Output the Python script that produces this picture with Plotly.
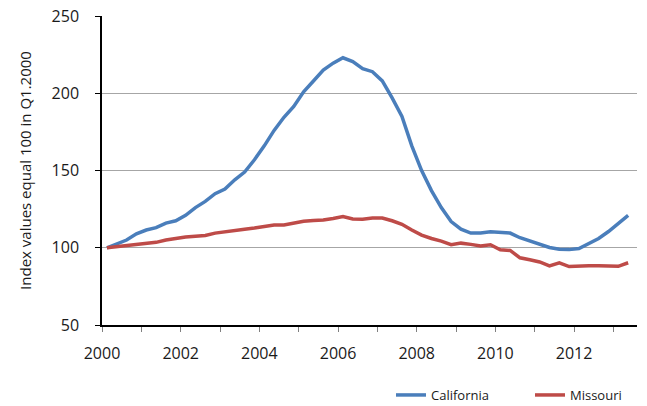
import plotly.graph_objects as go

# Quarterly data, Q1.2000 .. Q2.2013
years = [y for y in range(2000, 2014) for q in range(4)][:54]
qtrs = [q for y in range(2000, 2014) for q in range(1, 5)][:54]

california = [100, 102.5, 105, 109, 111.5, 113, 116, 117.5, 121, 126,
              130, 135, 138, 144, 149, 157, 166, 176, 184.5, 191.5,
              201, 208, 215, 219.5, 223, 220.5, 216, 214, 208, 197,
              185, 166, 150, 137, 126, 117, 112, 109.5, 109.5, 110.3,
              110, 109.5, 106.5, 104.5, 102.5, 100.2, 99, 98.8, 99.5, 103,
              106, 110.5, 116, 121]
missouri = [100, 100.8, 101.5, 102, 102.8, 103.5, 105, 106.2, 107, 107.5,
            108, 109.5, 110.5, 111.2, 112, 112.8, 114, 114.8, 114.7, 116.2,
            117.2, 117.7, 118, 119, 120.2, 118.6, 118.5, 119.3, 119.3, 117.5,
            115.2, 111.5, 108.2, 106, 104.3, 102, 103, 102.2, 101.2, 102,
            98.7, 98.3, 93.5, 92.2, 90.8, 88.3, 90.3, 87.8, 88.2, 88.3,
            88.4, 88.3, 88, 90.3]

x = [y + (q - 0.5) / 4 for y, q in zip(years, qtrs)]

x_ticks = [2000, 2002, 2004, 2006, 2008, 2010, 2012]
y_ticks = [50, 100, 150, 200, 250]

fig = go.Figure()
fig.add_trace(go.Scatter(x=x, y=california, mode="lines", name="California",
                         line=dict(color="#4a7ebb", width=3.5), legend="legend"))
fig.add_trace(go.Scatter(x=x, y=missouri, mode="lines", name="Missouri",
                         line=dict(color="#be4b48", width=3.5), legend="legend2"))

font = "Open Sans, Liberation Sans, sans-serif"
leg_common = dict(orientation="h", xanchor="left", yanchor="middle",
                  font=dict(size=13, color="#1a1a1a"), bgcolor="rgba(0,0,0,0)")
# page body has an 8px margin; figure sized to fit the 647x406 window
fig.update_layout(
    width=639, height=398,
    margin=dict(l=94, r=10, t=8, b=81, autoexpand=False),
    paper_bgcolor="white", plot_bgcolor="white",
    font=dict(family=font, color="#1a1a1a"),
    showlegend=True,
    legend=dict(x=(391 - 102) / 535, y=(325 - 395) / 309, **leg_common),
    legend2=dict(x=(530 - 102) / 535, y=(325 - 395) / 309, **leg_common),
)
fig.update_xaxes(
    range=[2000, 2013.6], tickvals=x_ticks, ticktext=[str(v) for v in x_ticks],
    showgrid=False, zeroline=False, automargin=False,
    showline=True, linecolor="black", linewidth=1.5,
    ticks="outside", ticklen=5, tickcolor="#808080", tickwidth=1,
    minor=dict(dtick=1, tick0=2000, ticks="outside", ticklen=5, tickcolor="#808080", tickwidth=1, showgrid=False),
    tickfont=dict(size=16, color="#1a1a1a"),
    ticklabelstandoff=8,
)
fig.update_yaxes(
    range=[50, 250.05], tickvals=y_ticks,
    showgrid=True, gridcolor="#a6a6a6", gridwidth=1, zeroline=False, automargin=False,
    showline=True, linecolor="black", linewidth=1.5,
    ticks="outside", ticklen=5, tickcolor="black", tickwidth=1,
    tickfont=dict(size=16, color="#1a1a1a"),
    ticklabelstandoff=13, ticklabeloverflow="allow",
    title=dict(text="Index values equal 100 in Q1.2000", font=dict(size=15, color="#1a1a1a"), standoff=16),
)

fig.write_html("out.html")
